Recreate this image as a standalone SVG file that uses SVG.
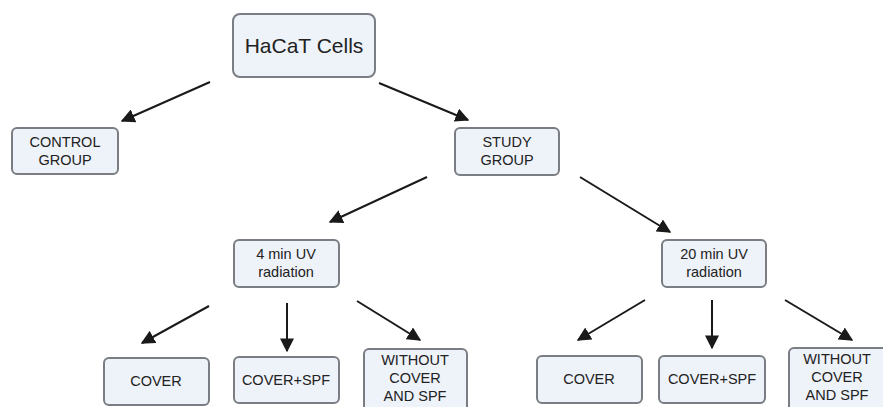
<svg xmlns="http://www.w3.org/2000/svg" width="883" height="407" viewBox="0 0 883 407">
<style>
.box{fill:#eef2f9;stroke:#7a7d83;stroke-width:2}
.t{font-family:"Liberation Sans",Arial,sans-serif;font-size:14.5px;fill:#222222;text-anchor:middle}
.big{font-size:21px}
.c{stroke:#1a1a1a;stroke-width:2;fill:none;marker-end:url(#ah)}
</style>
<defs>
<marker id="ah" viewBox="0 0 10 10" refX="9" refY="5" markerWidth="7" markerHeight="7" markerUnits="strokeWidth" orient="auto">
<path d="M0,0 L10,5 L0,10 z" fill="#1a1a1a"/>
</marker>
</defs>
<rect width="883" height="407" fill="#ffffff"/>
<g id="connectors">
<line class="c" x1="210" y1="82" x2="122" y2="121"/>
<line class="c" x1="379" y1="83" x2="468" y2="120"/>
<line class="c" x1="427" y1="177" x2="330" y2="222"/>
<line class="c" x1="580" y1="177" x2="670" y2="232"/>
<line class="c" x1="209" y1="306" x2="142" y2="343"/>
<line class="c" x1="287" y1="303" x2="287" y2="351"/>
<line class="c" x1="357" y1="301" x2="420" y2="340"/>
<line class="c" x1="645" y1="300" x2="578" y2="340"/>
<line class="c" x1="712" y1="300" x2="712" y2="348"/>
<line class="c" x1="785" y1="300" x2="852" y2="340"/>
</g>
<g id="hacat">
<rect class="box" x="233" y="14" width="142" height="63" rx="7"/>
<text class="t big" x="304" y="53">HaCaT Cells</text>
</g>
<g id="control">
<rect class="box" x="12" y="128" width="106" height="46" rx="5"/>
<text class="t" x="65" y="147">CONTROL</text>
<text class="t" x="65" y="165">GROUP</text>
</g>
<g id="study">
<rect class="box" x="455" y="128" width="104" height="47" rx="5"/>
<text class="t" x="507" y="147">STUDY</text>
<text class="t" x="507" y="165">GROUP</text>
</g>
<g id="uv4">
<rect class="box" x="234" y="240" width="105" height="47" rx="5"/>
<text class="t" x="286" y="259">4 min UV</text>
<text class="t" x="286" y="277">radiation</text>
</g>
<g id="uv20">
<rect class="box" x="662" y="240" width="104" height="47" rx="5"/>
<text class="t" x="714" y="259">20 min UV</text>
<text class="t" x="714" y="277">radiation</text>
</g>
<g id="cover1">
<rect class="box" x="104" y="358" width="105" height="47" rx="5"/>
<text class="t" x="156" y="386">COVER</text>
</g>
<g id="coverspf1">
<rect class="box" x="234" y="357" width="105" height="46" rx="5"/>
<text class="t" x="286" y="385">COVER+SPF</text>
</g>
<g id="without1">
<rect class="box" x="364" y="349" width="103" height="66" rx="5"/>
<text class="t" x="415" y="365">WITHOUT</text>
<text class="t" x="415" y="383">COVER</text>
<text class="t" x="415" y="401">AND SPF</text>
</g>
<g id="cover2">
<rect class="box" x="537" y="356" width="105" height="47" rx="5"/>
<text class="t" x="589" y="384">COVER</text>
</g>
<g id="coverspf2">
<rect class="box" x="659" y="356" width="106" height="47" rx="5"/>
<text class="t" x="712" y="384">COVER+SPF</text>
</g>
<g id="without2">
<rect class="box" x="789" y="348" width="100" height="66" rx="5"/>
<text class="t" x="837" y="364">WITHOUT</text>
<text class="t" x="837" y="382">COVER</text>
<text class="t" x="837" y="400">AND SPF</text>
</g>
</svg>
